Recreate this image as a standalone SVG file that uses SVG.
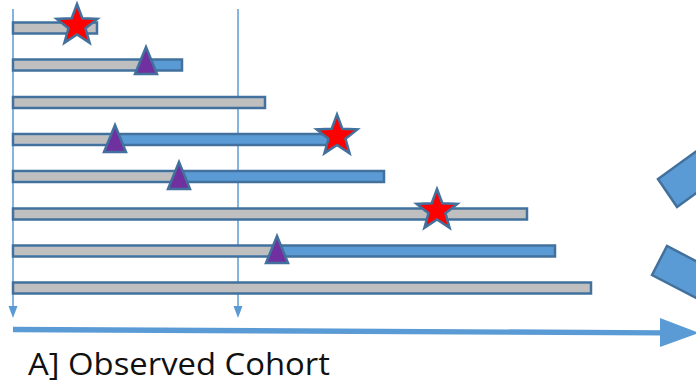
<svg xmlns="http://www.w3.org/2000/svg" width="696" height="386" viewBox="0 0 696 386">
<style>
.g{fill:#bfbfbf;stroke:#41719c;stroke-width:2.5}
.b{fill:#5b9bd5;stroke:#41719c;stroke-width:2.5}
.gi{fill:#bfbfbf}
.star{fill:#ff0000;stroke:#41719c;stroke-width:2.5;stroke-linejoin:miter}
.tri{fill:#7030a0;stroke:#41719c;stroke-width:2.5}
.vl{stroke:#5b9bd5;stroke-width:1.5;fill:none}
.ah{fill:#5b9bd5}
.lbl{font-family:"Open Sans","Noto Sans",sans-serif;font-size:31px;fill:#111}
</style>
<defs>
<polygon id="star" points="0,-21.5 5.3,-7.2 20.4,-6.6 8.5,2.8 12.6,17.4 0,8.9 -12.6,17.4 -8.5,2.8 -20.4,-6.6 -5.3,-7.2"/>
<polygon id="tri" points="0,-14 11,13 -11,13"/>
</defs>
<g id="connectors">
<line class="vl" x1="13" y1="9" x2="13" y2="308"/>
<polygon class="ah" points="8.5,306 17.5,306 13,318"/>
<line class="vl" x1="238" y1="9" x2="238" y2="308"/>
<polygon class="ah" points="233.5,306 242.5,306 238,318"/>
<line x1="13" y1="329.5" x2="662" y2="332.8" stroke="#5b9bd5" stroke-width="5.3"/>
<polygon class="ah" points="660,318 699,333 660,347"/>
</g>
<g id="row1">
<rect class="g" x="13" y="22.5" width="84" height="11"/>
<use href="#star" class="star" x="77" y="25.5"/>
</g>
<g id="row2">
<rect class="b" x="13" y="59.5" width="169" height="11"/>
<rect class="gi" x="14.3" y="60.8" width="128" height="8.4"/>
<use href="#tri" class="tri" x="146" y="61"/>
</g>
<g id="row3">
<rect class="g" x="13" y="97" width="252" height="11"/>
</g>
<g id="row4">
<rect class="b" x="13" y="134" width="325" height="11"/>
<rect class="gi" x="14.3" y="135.3" width="100" height="8.4"/>
<use href="#tri" class="tri" x="115" y="139"/>
<use href="#star" class="star" x="337" y="136"/>
</g>
<g id="row5">
<rect class="b" x="13" y="171" width="371" height="11"/>
<rect class="gi" x="14.3" y="172.3" width="164" height="8.4"/>
<use href="#tri" class="tri" x="179" y="176"/>
</g>
<g id="row6">
<rect class="g" x="13" y="208.5" width="514" height="11"/>
<use href="#star" class="star" x="437" y="210.5"/>
</g>
<g id="row7">
<rect class="b" x="13" y="245.5" width="542" height="11"/>
<rect class="gi" x="14.3" y="246.8" width="262" height="8.4"/>
<use href="#tri" class="tri" x="277" y="250"/>
</g>
<g id="row8">
<rect class="g" x="13" y="282.5" width="578" height="11"/>
</g>
<g id="shape-top">
<polygon class="b" points="658,179 677,207 742,160 723,132"/>
</g>
<g id="shape-bottom">
<polygon class="b" points="652,275 667,246 738,283 723,312"/>
</g>
<g id="label">
<text class="lbl" x="28" y="375" textLength="302" lengthAdjust="spacingAndGlyphs">A] Observed Cohort</text>
</g>
</svg>
